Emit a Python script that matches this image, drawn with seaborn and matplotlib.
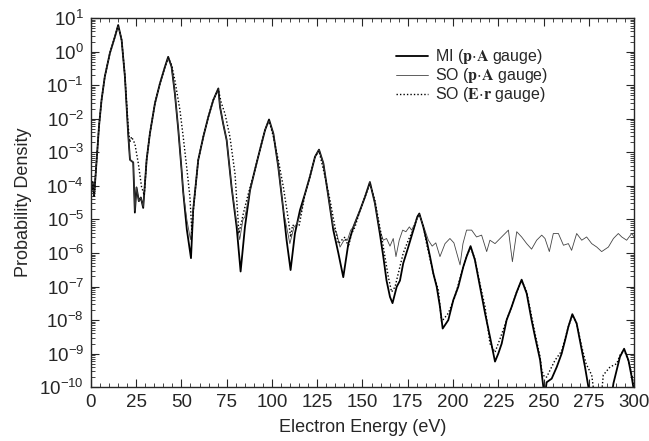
import numpy as np
import matplotlib
matplotlib.use('Agg')
import matplotlib.pyplot as plt
import seaborn as sns
from matplotlib.ticker import MultipleLocator, LogLocator, NullFormatter

# MI (p.A gauge)
mi_energy = [0, 1, 1.8, 2.6, 3.5, 4.5, 5.9, 7.7, 10.5, 13.3, 15.1, 17, 18.8, 20.6, 21.6, 23.4,
             24.3, 25.2, 26.5, 27.6, 28.9, 30.8, 32.6, 35.4, 38.1, 40.9, 42.7, 44.6, 46.4, 48.3,
             50.1, 51.0, 53, 55.3, 56.5, 59.3, 62.1, 64.8, 67.6, 70.4, 71.3, 73.1, 75, 77.7,
             80.5, 82.7, 85.1, 87.9, 90.6, 93.4, 96.2, 98.4, 100.8, 103.5, 106.3, 108.1, 110.3,
             112.7, 115.5, 118.3, 121, 123.8, 126, 128.4, 131.2, 133.9, 136.7, 139.4, 142.2, 145,
             148.7, 151.4, 154.1, 156.9, 159.6, 161.5, 163.3, 165.2, 166.6, 168.9, 170.7, 172.5,
             175.3, 178.1, 180.3, 181.4, 183.6, 185.4, 187.3, 189.1, 191, 192.8, 194.3, 197.4,
             200.2, 202.9, 205.7, 207.5, 209.7, 212.1, 214.9, 217.7, 220.4, 223.2, 225, 226.9,
             229.6, 232.4, 235.2, 237.9, 240.7, 243.4, 245.3, 248.1, 249.9, 250.8, 251.7, 254.5,
             257.3, 260, 261.9, 263.7, 265.9, 268.3, 271.1, 272.9, 274.8, 276, 287.5, 288.6,
             290.4, 292.2, 294.5, 296.9, 298.7, 299.6, 300]
mi_density = [6e-5, 1.3e-4, 5e-5, 2e-4, 1e-3, 6e-3, 3.6e-2, 0.18, 0.9, 2.8, 6.2, 2.2, 0.18, 3.6e-3, 6e-4, 5e-4,
              1.6e-5, 9e-5, 3.5e-5, 4.5e-5, 2.2e-5, 6e-4, 3.6e-3, 2.9e-2, 0.11, 0.35, 0.7, 0.35, 5.6e-2, 4.6e-3,
              3e-4, 6.6e-5, 5e-6, 7e-7, 1.9e-5, 5.9e-4, 2.9e-3, 1.1e-2, 3.6e-2, 8e-2, 2.3e-2, 7e-3, 2.3e-3, 9.3e-5,
              6e-6, 2.8e-7, 6e-6, 7.4e-5, 3e-4, 1.2e-3, 4.6e-3, 9.5e-3, 3.6e-3, 3.7e-4, 1.9e-5, 2.4e-6, 3.1e-7,
              3.8e-6, 1.9e-5, 5.9e-5, 1.9e-4, 7.4e-4, 1.2e-3, 4.7e-4, 4.7e-5, 4.8e-6, 9.8e-7, 1.9e-7, 1.9e-6, 6e-6,
              1.9e-5, 4.7e-5, 1.3e-4, 3e-5, 3.8e-6, 7.8e-7, 1.5e-7, 4.9e-8, 3.2e-8, 9.8e-8, 1.5e-7, 4.9e-7,
              1.5e-6, 4.8e-6, 1.2e-5, 1.5e-5, 6e-6, 2.4e-6, 7.8e-7, 2.5e-7, 9.8e-8, 2.5e-8, 5.6e-9, 1e-8,
              4e-8, 9.8e-8, 3.9e-7, 7.8e-7, 1.6e-6, 6.2e-7, 9.8e-8, 1.6e-8, 3.2e-9, 5.8e-10, 1e-9, 2e-9,
              1e-8, 2.5e-8, 6.9e-8, 1.6e-7, 6.2e-8, 1e-8, 3.2e-9, 6.5e-10, 1e-10, 6e-11, 1.4e-10, 1.8e-10,
              4e-10, 1e-9, 2.5e-9, 6.3e-9, 1.5e-8, 7.9e-9, 1.3e-9, 4e-10, 1e-10, 5e-11, 5e-11, 1.3e-10,
              3.2e-10, 8e-10, 1.4e-9, 6.3e-10, 2e-10, 1e-10, 6e-11]

# SO (p.A gauge)
so_pa_energy = [0, 1, 1.8, 2.6, 3.5, 4.5, 5.9, 7.7, 10.5, 13.3, 15.1, 17, 18.8, 20.6, 21.6, 23.4,
                24.3, 25.2, 26.5, 27.6, 28.9, 30.8, 32.6, 35.4, 38.1, 40.9, 42.7, 44.6, 46.4, 48.3,
                50.1, 51.0, 53, 55, 56.5, 59.3, 62.1, 64.8, 67.6, 70.4, 71.3, 73.1, 75, 77.7,
                80.5, 82.2, 84, 85.1, 87.9, 90.6, 93.4, 96.2, 98.4, 100.8, 103.5, 106.3, 108.1, 109.9,
                112.2, 114, 116.4, 118.3, 121, 123.8, 126, 128.4, 131.2, 133.9, 135.8, 137.6, 139.8,
                141.7, 143.5, 145, 148.7, 151.4, 154.1, 156.9, 159.6, 161.5, 163.3, 165.2, 167, 168.5,
                170.3, 172.2, 174, 175.9, 177.1, 179, 181.4, 184.5, 186.4, 188.5, 190.5, 192.8, 195.6,
                198.3, 200.5, 203.9, 205.5, 207.5, 210.3, 213, 215.8, 218.6, 220.4, 223.2, 226, 228.7,
                230.6, 232.8, 235.2, 237.9, 240.7, 243.4, 246.2, 249, 250.8, 253.2, 255.4, 258.2, 261,
                263.7, 265.5, 268.3, 271.1, 273.8, 276.6, 279.4, 282.1, 285.8, 288.6, 291.3, 293.2,
                295.9, 298.7, 300]
so_pa_density = [6e-5, 1.3e-4, 5e-5, 2e-4, 1e-3, 6e-3, 3.6e-2, 0.18, 0.9, 2.8, 6.0, 2.2, 0.18, 3.6e-3, 6e-4, 5e-4,
                 1.8e-5, 9e-5, 3.5e-5, 4.5e-5, 2.4e-5, 6e-4, 3.6e-3, 2.9e-2, 0.11, 0.35, 0.68, 0.35, 5.6e-2, 4.6e-3,
                 3e-4, 6.6e-5, 1e-5, 2.5e-6, 1.9e-5, 5.9e-4, 2.9e-3, 1.1e-2, 3.6e-2, 7.8e-2, 2.3e-2, 7e-3, 2.3e-3, 9.3e-5,
                 8e-6, 2.5e-6, 1e-5, 1.2e-5, 7.4e-5, 3e-4, 1.2e-3, 4.6e-3, 9.3e-3, 3.6e-3, 3.7e-4, 1.9e-5, 6e-6, 1.9e-6,
                 6e-6, 7.6e-6, 1.9e-5, 5.9e-5, 1.9e-4, 7.4e-4, 1.2e-3, 4.7e-4, 4.7e-5, 6e-6, 3.8e-6, 1.5e-6, 2.4e-6,
                 2.4e-6, 4.8e-6, 6e-6, 1.9e-5, 4.7e-5, 1.3e-4, 3e-5, 4.8e-6, 2.4e-6, 2.7e-6, 1.6e-6, 2.7e-6, 7.8e-7,
                 2.4e-6, 4.8e-6, 4.3e-6, 6e-6, 4.8e-6, 7.6e-6, 1.4e-5, 4.8e-6, 2.4e-6, 1.6e-6, 2e-6, 7.8e-7, 1.9e-6,
                 2.7e-6, 2e-6, 4.4e-7, 1.9e-6, 4.8e-6, 4.8e-6, 3e-6, 3.4e-6, 1.1e-6, 2.4e-6, 1.9e-6, 2.7e-6, 3.8e-6,
                 4.8e-6, 5.5e-7, 4.3e-6, 3e-6, 1.9e-6, 1.3e-6, 2.4e-6, 3.4e-6, 2.7e-6, 1.1e-6, 3.8e-6, 3.8e-6, 1.7e-6,
                 1.9e-6, 1.2e-6, 3.8e-6, 2.4e-6, 3e-6, 1.9e-6, 1.5e-6, 1.1e-6, 1.5e-6, 2.7e-6, 3.8e-6, 3e-6,
                 2.4e-6, 3.8e-6, 3e-6]

# SO (E.r gauge)
so_er_energy = [0, 1, 1.8, 2.6, 3.5, 4.5, 5.9, 7.7, 10.5, 13.3, 15.1, 17, 18.8, 20.6, 21.5, 22.5,
                24.3, 26.2, 28, 29.5, 30.8, 32.6, 35.4, 38.1, 40.9, 42.7, 44.6, 46.4, 49.2, 51,
                52.9, 54.7, 55.8, 56.8, 59.3, 62.1, 64.8, 67.6, 70.4, 72, 74.1, 76.8, 79.6, 81.8,
                84.2, 87, 90.6, 93.4, 96.2, 98.4, 100.8, 103.5, 106.3, 109.1, 110.3, 111.4, 113.3,
                115.1, 117.3, 118.3, 121, 123.8, 126, 129.3, 132.1, 134.8, 136.7, 138.5, 140.4, 142.2,
                144, 145.9, 148.7, 151.4, 154.1, 156.9, 160.6, 162.4, 164.3, 166.1, 168, 169.8, 172.5,
                175.3, 178.1, 180.3, 181.4, 183.6, 185.4, 189.1, 191.9, 193.7, 197.4, 201.1, 203.5,
                205.7, 207.5, 209.7, 212.1, 214.9, 217.7, 220.4, 223.2, 226, 229.6, 232.4, 235.2,
                237.9, 240.7, 243.4, 245.3, 248.1, 249, 250.5, 251.7, 253.6, 256.3, 260, 263.7, 265.9,
                268.3, 271.1, 273.5, 276.6, 278, 282, 283, 286.7, 290.4, 292.2, 294.5, 296.9, 298.7, 300]
so_er_density = [6e-5, 1.3e-4, 5e-5, 2e-4, 1e-3, 6e-3, 3.6e-2, 0.18, 0.9, 2.8, 6.0, 2.2, 0.2, 6e-3, 2e-3, 2.9e-3,
                 1.8e-3, 4.7e-4, 9.3e-5, 5.2e-5, 6e-4, 3.6e-3, 2.9e-2, 0.11, 0.35, 0.65, 0.4, 0.14, 1.8e-2, 2.9e-3,
                 3.7e-4, 4.7e-5, 4e-6, 2.5e-5, 5.9e-4, 2.9e-3, 1.1e-2, 3.6e-2, 7.5e-2, 3e-2, 1.4e-2, 2.9e-3, 2.3e-4, 3.8e-6,
                 1.5e-5, 5.9e-5, 3e-4, 1.2e-3, 4.6e-3, 9e-3, 2.9e-3, 5.9e-4, 9.3e-5, 9.5e-6, 3e-6, 6.8e-6, 6e-6,
                 6.8e-6, 3e-5, 5.9e-5, 1.9e-4, 7.4e-4, 1.1e-3, 1.9e-4, 3.7e-5, 6e-6, 1.9e-6, 2.4e-6, 3e-6, 1.5e-6,
                 3.8e-6, 6e-6, 1.9e-5, 4.7e-5, 1.2e-4, 3.6e-5, 3e-6, 7.8e-7, 1.9e-7, 6.9e-8, 9.8e-8, 2.5e-7, 9.8e-7,
                 2.4e-6, 5e-6, 1.2e-5, 1.4e-5, 6.5e-6, 1.9e-6, 2.5e-7, 7.8e-8, 9e-9, 1.6e-8, 5e-8, 1.5e-7,
                 3.9e-7, 7.8e-7, 1.5e-6, 6.5e-7, 1.2e-7, 2.5e-8, 2e-9, 1.1e-9, 2.8e-9, 1e-8, 2.5e-8, 6.9e-8,
                 1.5e-7, 7e-8, 1.3e-8, 4e-9, 8e-10, 3.2e-10, 2e-10, 2e-10, 3.2e-10, 6.3e-10, 1.2e-9, 6.3e-9, 1.4e-8,
                 8e-9, 1.6e-9, 5e-10, 2.3e-10, 6e-11, 6e-11, 2.3e-10, 4e-10, 5e-10, 9e-10, 1.3e-9, 6e-10, 2.5e-10, 1e-10]

sns.set_style('ticks')
plt.rcParams['font.family'] = ['Liberation Sans', 'DejaVu Sans']
plt.rcParams['mathtext.fontset'] = 'stix'

fig = plt.figure(figsize=(6.49, 4.41), dpi=100)
ax = fig.add_axes([0.140, 0.122, 0.837, 0.837])

sns.lineplot(x=mi_energy, y=mi_density, ax=ax, color='black', linewidth=1.3,
             label=r'MI ($\mathbf{p}{\cdot}\mathbf{A}$ gauge)')
sns.lineplot(x=so_pa_energy, y=so_pa_density, ax=ax, color='#444444', linewidth=0.6,
             label=r'SO ($\mathbf{p}{\cdot}\mathbf{A}$ gauge)')
sns.lineplot(x=so_er_energy, y=so_er_density, ax=ax, color='black', linewidth=1.0,
             linestyle=(0, (1, 1.5)), label=r'SO ($\mathbf{E}{\cdot}\mathbf{r}$ gauge)')

ax.set_yscale('log')
ax.set_xlim(0, 300)
ax.set_ylim(1e-10, 10)
ax.xaxis.set_major_locator(MultipleLocator(25))
ax.xaxis.set_minor_locator(MultipleLocator(5))
ax.yaxis.set_major_locator(LogLocator(base=10, numticks=20))
ax.yaxis.set_minor_locator(LogLocator(base=10, subs=np.arange(2, 10), numticks=20))
ax.yaxis.set_minor_formatter(NullFormatter())
ax.tick_params(which='both', direction='in', top=True, right=True, labelsize=13.5)
ax.tick_params(which='major', length=6, width=0.8, pad=5)
ax.tick_params(which='minor', length=3, width=0.6)
for s in ax.spines.values():
    s.set_linewidth(1.0)

ax.set_xlabel('Electron Energy (eV)', fontsize=13, labelpad=6)
ax.set_ylabel('Probability Density', fontsize=13, labelpad=5)

ax.legend(loc='upper left', bbox_to_anchor=(0.535, 0.96), frameon=False, fontsize=11.5,
          handlelength=2.0, handletextpad=0.45, labelspacing=0.0)

plt.savefig('out.png', dpi=100)
plt.close()
